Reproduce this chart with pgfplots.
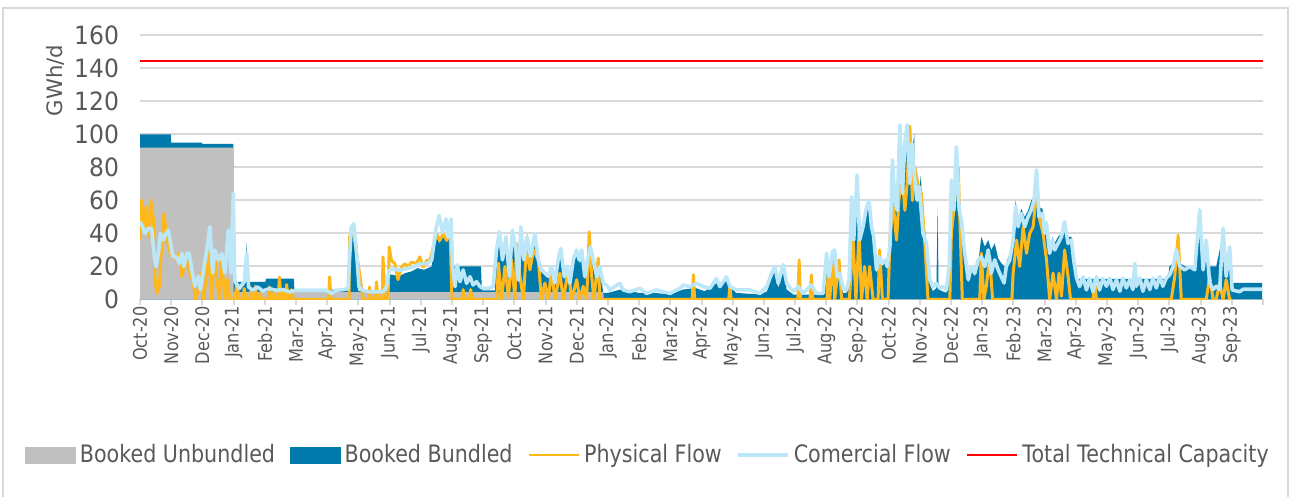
\documentclass[border=0pt]{standalone}
\usepackage{pgfplots}
\pgfplotsset{compat=1.18}
\usepackage{pgfplotstable}
\usepackage{fontspec}
\setmainfont{DejaVu Sans}
\newfontfamily\condfont{DejaVu Sans}[FakeStretch=0.86]
\newfontfamily\yfont{DejaVu Sans}[FakeStretch=0.93]
\definecolor{gridgray}{HTML}{D9D9D9}
\definecolor{textgray}{HTML}{595959}
\definecolor{unbgray}{HTML}{C0C0C0}
\definecolor{bunblue}{HTML}{0079AB}
\definecolor{physorange}{HTML}{FFB81C}
\definecolor{comblue}{HTML}{BCE7F9}
\definecolor{capred}{HTML}{FF0000}

% x = months since 1 Oct 2020
\pgfplotstableread{
x y
0 100
0.99 100
1.0 95
1.98 95
2.0 94.3
2.99 94.3
3.0 10.7
3.38 10.7
3.42 35
3.46 10.7
4.02 10.7
4.04 12.7
4.93 12.7
4.95 6
6.70 6
6.77 40
6.85 44
6.93 30
7.0 5
7.95 5
7.98 15
8.1 15
8.3 14
8.5 16
8.7 17
8.9 19
9.1 18
9.35 20
9.42 32
9.5 38
9.6 34
9.7 40
9.8 38
9.9 44
9.97 38
10.0 20
10.93 20
10.96 5.5
11.38 5.5
11.43 28
11.52 41
11.62 22
11.73 36
11.84 12
11.94 40
12.05 28
12.13 10
12.21 42
12.31 22
12.41 40
12.52 24
12.66 41
12.77 22
12.9 16
13.0 14
13.2 18
13.3 9
13.45 28
13.6 12
13.7 18
13.8 9
13.95 28
14.1 22
14.2 26
14.3 12
14.44 30
14.55 22
14.65 12
14.75 18
14.85 4
15.0 4
15.4 6
16.0 4
16.5 4
17.0 3
17.4 6
17.8 7
18.1 5
18.5 10
18.8 11
19.1 4
19.9 3
20.1 5
20.25 13
20.35 17
20.46 7
20.62 18
20.73 6
20.94 3
21.5 3
21.9 3
22.01 25
22.09 11
22.2 26
22.27 27
22.35 11
22.43 13
22.54 4
22.65 4
22.73 9
22.81 58
22.88 33
22.99 70
23.07 33
23.18 41
23.27 52
23.37 58
23.45 41
23.52 35
23.61 16
23.69 24
23.77 20
23.88 22
23.95 18
24.04 30
24.12 80
24.2 57
24.27 52
24.36 100
24.44 62
24.52 90
24.59 102
24.68 68
24.75 90
24.82 100
24.84 70
24.91 58
24.98 66
25.03 75
25.10 50
25.21 35
25.32 9
25.42 5
25.53 7
25.57 56
25.6 6
25.85 4
25.94 18
26.01 70
26.09 52
26.17 90
26.26 55
26.33 45
26.44 26
26.55 10
26.65 18
26.76 14
26.87 22
26.97 38
27.08 32
27.19 36
27.29 30
27.4 34
27.51 25
27.61 22
27.72 20
27.77 22
27.88 28
27.99 38
28.07 60
28.15 48
28.25 55
28.36 50
28.47 54
28.57 60
28.66 62
28.74 80
28.82 56
28.93 55
29.0 44
29.06 48
29.16 30
29.25 38
29.32 34
29.43 38
29.54 40
29.64 47
29.75 38
29.86 38
29.93 28
30.02 12.5
32.95 12.5
33.0 20
33.12 22
33.22 30
33.33 22
33.5 20
33.8 20
33.97 56
34.08 20
34.18 35
34.29 20
34.5 20
34.72 40
34.82 18
34.93 30
34.97 10
35.97 10
}\booked

\pgfplotstableread{
x y
0 92
2.99 92
3.0 4.5
14.85 4.5
14.87 0
35.97 0
}\unbundled

\pgfplotstableread{
x y
0.00 36.1
0.05 60.3
0.13 44.1
0.19 56.3
0.27 38.1
0.34 60.3
0.43 48.2
0.48 13.8
0.53 3.7
0.62 7.8
0.69 32.0
0.77 52.2
0.85 38.1
0.96 28.0
1.07 25.0
1.18 26.0
1.28 28.0
1.34 13.8
1.39 18.0
1.50 24.0
1.60 15.9
1.71 9.8
1.78 0
1.87 6
1.94 15.9
2.03 0
2.12 12
2.19 28
2.30 0
2.38 30
2.46 12
2.54 0
2.62 24
2.72 0
2.80 12
2.88 0
3.05 0
3.10 10
3.18 0
3.30 0
3.34 6.6
3.40 0
3.52 0
3.55 5
3.60 0
3.66 0
3.70 8
3.75 0
3.82 0
3.85 4
3.90 0
4.10 0
4.15 7.6
4.20 0
4.27 0
4.30 5
4.34 0
4.43 0
4.47 13.7
4.52 0
4.55 0
4.58 6
4.62 0
4.66 0
4.70 9
4.75 0
4.82 0
4.85 6
4.90 0
6.04 0
6.08 13.7
6.12 0
6.70 0
6.72 37.8
6.81 43.9
6.88 35.8
7.04 15.7
7.15 0
7.32 0
7.36 7.6
7.40 0
7.55 0
7.58 10.7
7.63 0
7.76 0
7.79 25.8
7.85 0
7.95 0
7.99 31.8
8.06 23.7
8.17 21.7
8.27 12
8.38 19.7
8.49 21.7
8.60 19.7
8.70 22.7
8.86 21.7
8.97 25.8
9.08 19.7
9.19 23.7
9.29 23.7
9.40 31.8
9.51 39.8
9.61 35.8
9.72 39.8
9.83 35.8
9.94 41.9
10.00 0
10.32 0
10.36 6
10.40 0
10.56 0
10.60 6
10.64 0
11.44 0
11.49 22
11.59 0
11.70 20
11.81 1.6
11.91 24
12.02 0
12.07 34
12.18 14
12.29 0
12.39 32
12.50 18
12.61 30
12.77 24
12.87 0
12.98 10
13.09 0
13.19 18
13.30 0
13.46 16
13.57 0
13.73 18
13.84 0
14.00 12
14.10 0
14.21 8
14.32 0
14.40 41
14.48 14
14.55 0
14.69 25
14.74 0
17.70 0
17.74 15
17.78 0
18.87 0
18.91 7.8
18.95 0
21.09 0
21.13 24
21.17 0
21.48 0
21.52 15
21.57 0
22.02 0
22.06 16
22.11 0
22.22 28
22.27 0
22.41 24
22.49 0
22.74 0
22.78 12
22.86 36
22.95 0
23.05 40
23.13 0
23.23 20
23.31 0
23.39 20
23.50 0
23.66 0
23.71 30
23.80 0
23.98 0
24.04 36
24.14 60
24.25 36
24.33 60
24.41 80
24.52 54
24.59 70
24.68 105
24.76 60
24.84 80
24.94 70
25.05 64
25.16 34
25.26 0
25.96 0
26.01 40
26.12 60
26.23 80
26.28 50
26.36 0
26.92 0
26.97 28
27.05 0
27.13 8
27.24 26
27.33 0
27.95 0
27.99 16
28.10 36
28.20 20
28.31 44
28.42 28
28.52 40
28.63 44
28.76 70
28.82 50
28.95 40
29.06 24
29.16 0
29.27 16
29.38 0
29.46 16
29.54 2
29.64 30
29.75 14
29.83 0
30.55 0
30.60 12
30.66 0
33.06 0
33.17 14
33.28 39
33.38 0
34.18 0
34.29 14
34.40 0
34.50 0
34.61 10
34.72 0
34.82 12
34.93 0
34.99 0
}\physical

\pgfplotstableread{
x y
0.00 47.2
0.085 44.1
0.16 40.1
0.27 43.1
0.37 43.1
0.45 28.0
0.51 20.0
0.59 28.0
0.66 40.1
0.75 36.1
0.83 40.1
0.91 42.1
0.96 36.1
1.05 26.0
1.18 25.6
1.26 21.9
1.34 28.0
1.41 20.0
1.50 28.0
1.58 28.0
1.66 18.0
1.76 8.0
1.87 14.1
1.94 6.0
2.03 17.1
2.14 30.0
2.24 44.1
2.33 16.1
2.40 30.0
2.51 24.0
2.62 28.0
2.72 16.1
2.83 42.1
2.91 16.1
2.99 64.3
3.04 11.0
3.15 8.0
3.18 6.6
3.34 10.7
3.42 27.8
3.48 7.6
3.61 5.6
3.77 7.6
3.93 5.2
4.15 6.6
4.36 5.6
4.58 6.0
4.79 4.6
5.01 5.6
5.54 5.6
5.97 5.6
6.13 3.6
6.29 5.6
6.51 6.0
6.67 6.6
6.77 43.9
6.85 45.9
6.93 31.8
7.02 7.6
7.15 5.6
7.36 4.6
7.58 4.6
7.79 4.6
7.90 7.6
7.98 17.7
8.11 18.7
8.33 17.7
8.54 18.7
8.76 19.7
8.97 21.7
9.19 21.7
9.35 23.7
9.42 33.8
9.49 42.9
9.59 50.9
9.70 40.8
9.81 48.9
9.88 37.8
9.97 48.9
10.02 20.1
10.10 7.8
10.17 21.1
10.26 10.8
10.36 17.9
10.47 9.8
10.58 13.8
10.68 8.8
10.79 10.8
10.90 7.8
11.00 6.8
11.16 6.8
11.32 7.8
11.43 30.0
11.52 41.1
11.62 24.0
11.73 38.1
11.84 14.0
11.94 42.1
12.05 30.0
12.13 11.8
12.21 44.1
12.31 24.0
12.41 38.1
12.52 26.0
12.66 40.1
12.77 24.0
12.87 18.0
12.98 16.0
13.09 14.0
13.19 20.0
13.30 10.0
13.41 24.9
13.49 31.0
13.60 13.8
13.70 20.0
13.78 9.8
13.89 24.0
13.99 30.0
14.08 24.0
14.16 30.0
14.26 13.8
14.37 26.0
14.44 32.0
14.53 24.0
14.64 13.8
14.74 20.0
14.85 9.8
14.96 8.8
15.06 5.8
15.38 9.8
15.49 5.8
15.70 4.7
16.03 6.8
16.24 3.7
16.56 5.8
16.99 3.7
17.31 6.8
17.42 8.8
17.63 7.8
17.84 9.8
18.06 7.8
18.27 6.8
18.48 12.8
18.59 7.8
18.80 13.8
18.91 7.8
19.12 5.8
19.55 5.8
19.87 3.7
20.09 7.8
20.25 15.9
20.35 20.0
20.46 9.8
20.62 21.1
20.73 9.8
20.94 4.7
21.10 7.8
21.26 3.7
21.42 6.8
21.52 8.8
21.69 3.7
21.90 3.7
22.01 28.0
22.09 13.8
22.20 29.0
22.27 30.0
22.35 13.8
22.43 15.9
22.54 6.8
22.65 5.8
22.73 11.8
22.81 62.3
22.88 36.1
22.99 75.5
23.07 36.1
23.18 44.1
23.27 54.2
23.37 60.3
23.45 44.1
23.52 38.1
23.61 18.0
23.69 26.0
23.77 22.0
23.88 24.0
23.95 20.0
24.04 32.0
24.12 84.6
24.20 60.3
24.27 54.2
24.36 105.8
24.44 64.3
24.52 94.6
24.59 105.8
24.68 70.4
24.75 94.6
24.84 72.4
24.91 60.3
24.98 68.4
25.10 40.1
25.21 34.0
25.32 12.0
25.42 7.8
25.53 9.8
25.64 6.8
25.74 7.8
25.85 5.8
25.94 20.0
26.01 72.4
26.09 54.2
26.17 92.6
26.26 54.2
26.33 48.2
26.44 28.0
26.55 12.0
26.65 20.0
26.76 15.9
26.87 24.0
26.97 26.0
27.08 20.0
27.19 30.0
27.29 15.9
27.40 24.0
27.51 18.0
27.61 13.8
27.70 10.0
27.77 20.0
27.88 24.0
27.99 36.1
28.07 56.3
28.15 44.1
28.25 52.2
28.36 44.1
28.47 50.2
28.57 54.2
28.66 60.3
28.74 78.5
28.82 50.2
28.93 52.2
29.00 40.1
29.06 46.2
29.16 28.0
29.25 36.1
29.32 30.0
29.43 34.0
29.54 38.1
29.64 47.2
29.75 34.0
29.86 36.1
29.93 24.0
30.02 13.2
30.12 7.8
30.23 13.8
30.34 5.8
30.44 12.8
30.55 4.7
30.66 13.8
30.76 5.8
30.87 12.8
30.98 8
31.09 13
31.19 6
31.30 12
31.41 5
31.51 13
31.62 7
31.73 12
31.83 6
31.89 22.0
31.94 8
32.05 13
32.15 5
32.26 12
32.37 6
32.47 13
32.58 7
32.69 14
32.79 8
32.90 13
33.01 15
33.12 20.0
33.22 30.0
33.33 20.0
33.49 18
33.65 20
33.81 18
33.97 54.2
34.08 18
34.18 36.1
34.29 10
34.40 6
34.50 8
34.61 6
34.72 43.1
34.82 14
34.93 32.0
35.01 5.8
35.25 4.7
35.36 6.2
35.98 6.2
}\commercial

\begin{document}
\begin{tikzpicture}
\useasboundingbox (0pt,0pt) rectangle (646.5pt,248.5pt);
\draw[gridgray, line width=1pt] (1.5pt,0pt) -- (1.5pt,244.5pt) -- (644pt,244.5pt) -- (644pt,0pt);
\begin{axis}[
  at={(70pt,98.75pt)}, anchor=south west,
  scale only axis, width=561.5pt, height=132pt,
  xmin=0, xmax=36, ymin=0, ymax=160,
  xtick={0,...,36},
  xticklabels={Oct-20,Nov-20,Dec-20,Jan-21,Feb-21,Mar-21,Apr-21,May-21,Jun-21,Jul-21,Aug-21,Sep-21,Oct-21,Nov-21,Dec-21,Jan-22,Feb-22,Mar-22,Apr-22,May-22,Jun-22,Jul-22,Aug-22,Sep-22,Oct-22,Nov-22,Dec-22,Jan-23,Feb-23,Mar-23,Apr-23,May-23,Jun-23,Jul-23,Aug-23,Sep-23,{}},
  ytick={0,20,...,160},
  xtick pos=bottom, ytick pos=left,
  xtick align=outside,
  major tick length=3pt,
  xtick style={gridgray, line width=1pt},
  ytick style={draw=none},
  axis line style={draw=none},
  ymajorgrids, grid style={gridgray, line width=1pt},
  /pgf/number format/assume math mode=true,
  xticklabel shift=-3pt,
  xticklabel style={rotate=90, anchor=east, font=\condfont\fontsize{9.4}{11}\selectfont, text=textgray},
  yticklabel style={font=\yfont\fontsize{12.6}{14}\selectfont, text=textgray, xshift=-7pt},
  ylabel={GWh/d},
  ylabel style={at={(axis description cs:-0.0757,0.83)}, anchor=center, font=\fontsize{10.6}{12}\selectfont, text=textgray},
  legend style={draw=none, fill=none, at={(axis description cs:0.4532,-0.589)}, anchor=center,
    legend columns=5, font=\condfont\fontsize{12}{14}\selectfont, text=textgray,
    /tikz/every even column/.append style={column sep=5.4pt}},
  legend cell align=left,
]
\addlegendimage{legend image code/.code={\fill[unbgray] (0pt,-4pt) rectangle (25pt,4pt);}}
\addlegendentry{Booked Unbundled}
\addlegendimage{legend image code/.code={\fill[bunblue] (0pt,-4pt) rectangle (25pt,4pt);}}
\addlegendentry{Booked Bundled}
\addlegendimage{legend image code/.code={\draw[physorange, line width=1.4pt] (0pt,0pt) -- (25pt,0pt);}}
\addlegendentry{Physical Flow}
\addlegendimage{legend image code/.code={\draw[comblue, line width=1.6pt] (0pt,0pt) -- (25pt,0pt);}}
\addlegendentry{Comercial Flow}
\addlegendimage{legend image code/.code={\draw[capred, line width=1.4pt] (0pt,0pt) -- (25pt,0pt);}}
\addlegendentry{Total Technical Capacity}

\addplot[forget plot, fill=bunblue, draw=none] table[x=x,y=y] {\booked} \closedcycle;
\addplot[forget plot, fill=unbgray, draw=none] table[x=x,y=y] {\unbundled} \closedcycle;
\addplot[forget plot, physorange, line width=1.5pt, line join=round] table[x=x,y=y] {\physical};
\addplot[forget plot, comblue, line width=1.8pt, line join=round] table[x=x,y=y] {\commercial};
\addplot[forget plot, capred, line width=1.4pt] coordinates {(0,144.5) (36,144.5)};
\end{axis}
\end{tikzpicture}
\end{document}
